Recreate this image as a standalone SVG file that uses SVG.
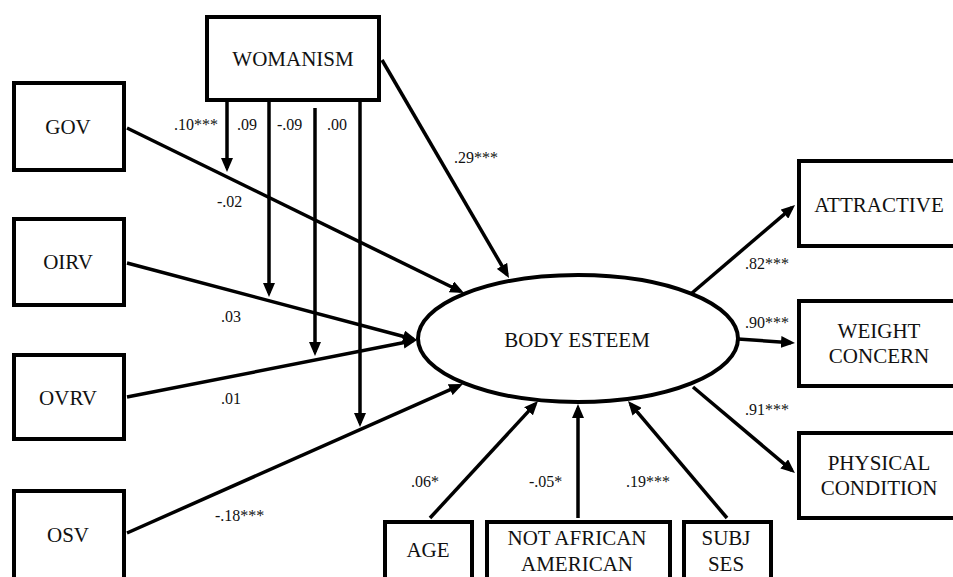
<svg xmlns="http://www.w3.org/2000/svg" width="953" height="577" viewBox="0 0 953 577" font-family="Liberation Serif, DejaVu Serif, serif">
<style>
.box{fill:#fff;stroke:#000;stroke-width:4}
.lbl{font-size:21px;fill:#111;text-anchor:middle}
.coef{font-size:16px;fill:#111}
.edge{stroke:#000;stroke-width:3.5;fill:none}
</style>
<defs>
<marker id="ah" markerUnits="userSpaceOnUse" markerWidth="14" markerHeight="12" refX="10" refY="6" orient="auto">
<path d="M0,0 L14,6 L0,12 z" fill="#000"/>
</marker>
</defs>
<rect width="953" height="577" fill="#fff"/>
<g id="connectors">
<line class="edge" x1="127" y1="128" x2="460.4" y2="291.2" marker-end="url(#ah)"/>
<line class="edge" x1="127" y1="263" x2="413.1" y2="339" marker-end="url(#ah)"/>
<line class="edge" x1="127" y1="397" x2="413.1" y2="340.8" marker-end="url(#ah)"/>
<line class="edge" x1="127" y1="533" x2="459.3" y2="385.6" marker-end="url(#ah)"/>
<line class="edge" x1="382" y1="60" x2="507" y2="274.5" marker-end="url(#ah)"/>
<line class="edge" x1="227" y1="102" x2="227" y2="168" marker-end="url(#ah)"/>
<line class="edge" x1="269" y1="102" x2="269" y2="293" marker-end="url(#ah)"/>
<line class="edge" x1="315" y1="108" x2="315" y2="352" marker-end="url(#ah)"/>
<line class="edge" x1="360" y1="102" x2="360" y2="423" marker-end="url(#ah)"/>
<line class="edge" x1="430" y1="518" x2="535.3" y2="403.9" marker-end="url(#ah)"/>
<line class="edge" x1="578" y1="518" x2="578" y2="408" marker-end="url(#ah)"/>
<line class="edge" x1="727" y1="518" x2="630.6" y2="404.1" marker-end="url(#ah)"/>
<line class="edge" x1="692" y1="293" x2="792" y2="207.6" marker-end="url(#ah)"/>
<line class="edge" x1="738" y1="339" x2="791" y2="342.7" marker-end="url(#ah)"/>
<line class="edge" x1="693" y1="387" x2="791.9" y2="470.4" marker-end="url(#ah)"/>
</g>
<g id="labels" font-family="Liberation Serif, DejaVu Serif, serif">
<text class="coef" x="174" y="130">.10***</text>
<text class="coef" x="237" y="130">.09</text>
<text class="coef" x="277" y="130">-.09</text>
<text class="coef" x="327" y="130">.00</text>
<text class="coef" x="454" y="163">.29***</text>
<text class="coef" x="217" y="207">-.02</text>
<text class="coef" x="221" y="322">.03</text>
<text class="coef" x="221" y="404">.01</text>
<text class="coef" x="215" y="521">-.18***</text>
<text class="coef" x="411" y="487">.06*</text>
<text class="coef" x="529" y="487">-.05*</text>
<text class="coef" x="626" y="487">.19***</text>
<text class="coef" x="745" y="269">.82***</text>
<text class="coef" x="745" y="328">.90***</text>
<text class="coef" x="745" y="415">.91***</text>
</g>
<g id="womanism"><rect class="box" x="207" y="17" width="172" height="83"/><text class="lbl" x="293" y="66">WOMANISM</text></g>
<g id="gov"><rect class="box" x="14" y="83" width="110" height="87"/><text class="lbl" x="68" y="134">GOV</text></g>
<g id="oirv"><rect class="box" x="14" y="219" width="110" height="86"/><text class="lbl" x="68" y="269">OIRV</text></g>
<g id="ovrv"><rect class="box" x="14" y="355" width="110" height="84"/><text class="lbl" x="68" y="405">OVRV</text></g>
<g id="osv"><rect class="box" x="14" y="491" width="110" height="100"/><text class="lbl" x="68" y="542">OSV</text></g>
<g id="body-esteem"><ellipse cx="578" cy="338.5" rx="160" ry="63.5" fill="#fff" stroke="#000" stroke-width="4"/><text class="lbl" x="577" y="347">BODY ESTEEM</text></g>
<g id="attractive"><rect class="box" x="799" y="161" width="170" height="85"/><text class="lbl" x="879" y="212">ATTRACTIVE</text></g>
<g id="weight-concern"><rect class="box" x="799" y="301" width="170" height="85"/><text class="lbl" x="879" y="338">WEIGHT</text><text class="lbl" x="879" y="363">CONCERN</text></g>
<g id="physical-condition"><rect class="box" x="799" y="433" width="170" height="85"/><text class="lbl" x="879" y="470">PHYSICAL</text><text class="lbl" x="879" y="495">CONDITION</text></g>
<g id="age"><rect class="box" x="385" y="522" width="87" height="70"/><text class="lbl" x="428" y="557">AGE</text></g>
<g id="not-african-american"><rect class="box" x="487" y="522" width="183" height="70"/><text class="lbl" x="577" y="545">NOT AFRICAN</text><text class="lbl" x="577" y="571">AMERICAN</text></g>
<g id="subj-ses"><rect class="box" x="684" y="522" width="87" height="70"/><text class="lbl" x="726" y="545">SUBJ</text><text class="lbl" x="726" y="571">SES</text></g>
</svg>
